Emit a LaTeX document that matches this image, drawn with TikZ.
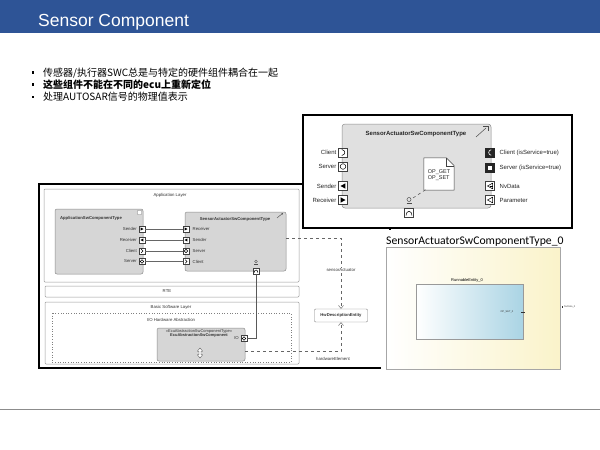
\documentclass[tikz,border=0pt]{standalone}
\usepackage{fontspec}
\setmainfont{Liberation Sans}
\newfontfamily\cjk{Noto Sans CJK SC}
\newfontfamily\cali{Carlito}
\usetikzlibrary{arrows.meta}
\definecolor{hdr}{RGB}{46,84,150}
\definecolor{compfill}{RGB}{214,214,214}
\definecolor{yel}{RGB}{250,243,202}
\definecolor{lblue}{RGB}{170,212,228}
\tikzset{
  pbox/.style={draw=black!75, fill=white, line width=0.4pt, inner sep=0pt, minimum size=#1},
  comp/.style={draw=black!45, fill=compfill, rounded corners=2pt, line width=0.5pt},
  layer/.style={draw=black!40, fill=white, rounded corners=1pt, line width=0.5pt},
  tiny/.style={font=\fontsize{4.3}{5}\selectfont, text=black!80, inner sep=0.5pt},
  mid/.style={font=\fontsize{6}{7}\selectfont, text=black!85, inner sep=0.5pt},
  triR/.pic={\fill[black] (-2.3,-2.6) -- (2.5,0) -- (-2.3,2.6) -- cycle;},
  triL/.pic={\fill[black] (2.3,-2.6) -- (-2.5,0) -- (2.3,2.6) -- cycle;},
  srv/.pic={\draw[line width=0.5pt] (0,0) circle (2.8);},
  cli/.pic={\draw[line width=0.5pt] (-1.2,-3) .. controls (2.8,-2.2) and (2.8,2.2) .. (-1.2,3);},
  bot/.pic={\draw[line width=0.5pt] (-3,2.5) .. controls (-3,-3) and (3,-3) .. (3,2.5);},
  cliS/.pic={\fill[black!85] (-4.5,-4.5) rectangle (4.5,4.5);
             \draw[white, line width=0.6pt] (1.2,-2.8) .. controls (-2.2,-2) and (-2.2,2) .. (1.2,2.8);},
  srvS/.pic={\fill[black!85] (-4.5,-4.5) rectangle (4.5,4.5);
             \fill[white] (-1.6,-1.6) rectangle (1.6,1.6);},
  opnL/.pic={\draw[line width=0.5pt] (2.5,-2.8) -- (-2.5,0) -- (2.5,2.8) -- cycle;},
  nvL/.pic={\draw[line width=0.5pt] (2.5,-2.8) -- (-2.5,0) -- (2.5,2.8) -- cycle; \draw[line width=0.4pt] (-0.5,0) -- (2.5,0);},
}
\begin{document}
\begin{tikzpicture}[x=1pt,y=-1pt]
\useasboundingbox (0,0) rectangle (600,450);
\fill[white] (0,0) rectangle (600,450);

% header
\fill[hdr] (0,0) rectangle (600,33);
\node[anchor=base west, text=white, inner sep=0, font=\fontsize{17.5}{20}\selectfont] (title) at (38,26) {Sensor Component};

% bullets
\node[fill=black, minimum size=2.4, inner sep=0] (q1) at (33,72.5) {};
\node[fill=black, minimum size=2.4, inner sep=0] (q2) at (33,84.5) {};
\node[fill=black, minimum size=2.4, inner sep=0] (q3) at (33,97) {};
\node[anchor=base west, inner sep=0, font=\cjk\fontsize{10}{11}\selectfont] (b1) at (43,76.3) {传感器/执行器SWC总是与特定的硬件组件耦合在一起};
\node[anchor=base west, inner sep=0, font=\cjk\bfseries\fontsize{10}{11}\selectfont] (b2) at (43,88.3) {这些组件不能在不同的ecu上重新定位};
\node[anchor=base west, inner sep=0, font=\cjk\fontsize{10}{11}\selectfont] (b3) at (43,100.8) {处理AUTOSAR信号的物理值表示};

% ================= left diagram =================
\draw[line width=1.3pt, fill=white] (39,184) rectangle (390,368);
\draw[layer] (44,189) rectangle (299,282);
\node[tiny] (lapp) at (170,195) {Application Layer};
\draw[layer] (45,286) rectangle (299,297);
\node[tiny] (lrte) at (167,291.5) {RTE};
\draw[layer] (45,302) rectangle (299,364);
\node[tiny] (lbsw) at (171,307.5) {Basic Software Layer};
\draw[black!50, dotted, line width=0.6pt] (52,313) rectangle (291,362);
\node[tiny] (lioh) at (171,320) {I/O Hardware Abstraction};

% application component
\draw[comp] (55,209) rectangle (143,274);
\node[tiny, font=\bfseries\fontsize{4.2}{5}\selectfont] (appt) at (91,218) {ApplicationSwComponentType};
\node[draw=black!50, fill=white, minimum size=4, inner sep=0, rounded corners=0.5pt] (appic) at (139.5,212.5) {};
\node[pbox=6] (a1) at (142,229) {}; \pic[scale=0.6] at (a1) {triR};
\node[pbox=6] (a2) at (142,240) {}; \pic[scale=0.6] at (a2) {triL};
\node[pbox=6] (a3) at (142,251) {}; \pic[scale=0.6] at (a3) {cli};
\node[pbox=6] (a4) at (142,261.5) {}; \pic[scale=0.6] at (a4) {srv};
\node[tiny, anchor=east] at (137.5,229) {Sender};
\node[tiny, anchor=east] at (137.5,240) {Receiver};
\node[tiny, anchor=east] at (137.5,251) {Client};
\node[tiny, anchor=east] at (137.5,261.5) {Server};

% sensor actuator component (small)
\draw[comp] (185,212) rectangle (286,271);
\node[tiny, font=\bfseries\fontsize{4.2}{5}\selectfont] (sat) at (235,219) {SensorActuatorSwComponentType};
\draw[black!70, line width=0.4pt, -{Straight Barb[length=1.2pt,width=2pt]}] (277,218) -- (283,213);
\node[pbox=6] (s1) at (186,229) {}; \pic[scale=0.6] at (s1) {triR};
\node[pbox=6] (s2) at (186,240) {}; \pic[scale=0.6] at (s2) {triL};
\node[pbox=6] (s3) at (186,251) {}; \pic[scale=0.6] at (s3) {srv};
\node[pbox=6] (s4) at (186,261.5) {}; \pic[scale=0.6] at (s4) {cli};
\node[tiny, anchor=west] at (192,229) {Receiver};
\node[tiny, anchor=west] at (192,240) {Sender};
\node[tiny, anchor=west] at (192,251) {Server};
\node[tiny, anchor=west] at (192,261.5) {Client};
\node[pbox=6] (sb) at (256,271) {}; \pic[scale=0.6] at (sb) {bot};
\draw[black!70, line width=0.4pt] (256,261.5) circle (1.4);
\draw[black!70, line width=0.4pt] (254.2,264) -- (257.8,264);
\coordinate (saout) at (286,238);

\foreach \i in {1,2,3,4} \draw[black!60, line width=0.4pt] (a\i.east) -- (s\i.west);

% ecu abstraction component
\draw[comp] (157,328) rectangle (245,361);
\node[tiny, font=\fontsize{4}{4.5}\selectfont] (ecu1) at (199,331) {«EcuAbstractionSwComponentType»};
\node[tiny, font=\bfseries\fontsize{4}{4.5}\selectfont] (ecu2) at (199,335) {EcuAbstractionSwComponent};
\node[pbox=6] (io) at (244,338.5) {}; \pic[scale=0.6] at (io) {srv};
\node[tiny, anchor=east] at (239.5,338.5) {IO};
\draw[black!70, fill=white, line width=0.35pt] (200,348) -- (202.6,351.2) -- (201,351.2) -- (201,354.8) -- (202.6,354.8) -- (200,358) -- (197.4,354.8) -- (199,354.8) -- (199,351.2) -- (197.4,351.2) -- cycle;
\coordinate (ecuout) at (245,351.5);
\draw[black!65, line width=0.45pt] (io.east) -| (sb.south);

% HwDescriptionEntity
\node[draw=black!50, fill=white, rounded corners=1pt, minimum width=53, minimum height=13, inner sep=0,
      font=\bfseries\fontsize{4.2}{5}\selectfont, text=black!80] (hw) at (341,315.5) {HwDescriptionEntity};
\draw[black!60, dashed, line width=0.45pt, -{Straight Barb[open,length=3pt,width=5pt]}] (saout) -- (341,238) -- (hw.north);
\node[tiny, fill=white, inner sep=1pt] (lsa) at (341,270) {sensorActuator};
\draw[black!60, dashed, line width=0.45pt, -{Straight Barb[open,length=3pt,width=5pt]}] (ecuout) -- (341,351.5) -- (hw.south);
\node[tiny] (lhe) at (333,359) {hardwareElement};

% ================= top-right picture =================
\draw[line width=1.3pt, fill=white] (303,115) rectangle (572,228);
\draw[comp, rounded corners=3pt, fill=black!12, draw=black!45] (342,124) rectangle (491,208);
\node[mid, font=\bfseries\fontsize{6}{7}\selectfont] (tsat) at (416,134) {SensorActuatorSwComponentType};
\draw[black!70, line width=0.5pt] (476,137) -- (486,128);
\draw[black!70, line width=0.5pt] (483,126) -- (488,126) -- (488,131);
\node[pbox=9] (t1) at (343,152.5) {}; \pic at (t1) {cli};
\node[pbox=9] (t2) at (343,166.5) {}; \pic at (t2) {srv};
\node[pbox=9] (t3) at (343,186) {}; \pic at (t3) {triL};
\node[pbox=9] (t4) at (343,200) {}; \pic at (t4) {triR};
\node[mid, anchor=east] at (337,152.5) {Client};
\node[mid, anchor=east] at (337,166.5) {Server};
\node[mid, anchor=east] at (337,186) {Sender};
\node[mid, anchor=east] at (337,200) {Receiver};
\node[pbox=9, draw=black!85] (r1) at (490,152.5) {}; \pic at (r1) {cliS};
\node[pbox=9, draw=black!85] (r2) at (490,168) {}; \pic at (r2) {srvS};
\node[pbox=9] (r3) at (490,186) {}; \pic at (r3) {nvL};
\node[pbox=9] (r4) at (490,200) {}; \pic at (r4) {opnL};
\node[mid, anchor=west] at (499,152.5) {Client (isService=true)};
\node[mid, anchor=west] at (499,168) {Server (isService=true)};
\node[mid, anchor=west] at (499,186) {NvData};
\node[mid, anchor=west] at (499,200) {Parameter};
% note
\node[minimum width=30, minimum height=32, inner sep=0] (note) at (439,174) {};
\draw[black!75, fill=white, line width=0.5pt] (note.north west) -- ([xshift=-8pt]note.north east) -- ([yshift=-8pt]note.north east) -- (note.south east) -- (note.south west) -- cycle;
\draw[black!75, line width=0.5pt] ([xshift=-8pt]note.north east) -- ([xshift=-8pt,yshift=-8pt]note.north east) -- ([yshift=-8pt]note.north east);
\node[inner sep=0, align=left, mid, font=\fontsize{5.5}{6.5}\selectfont] (notet) at (439,175) {OP\_GET\\OP\_SET};
\node[pbox=9] (tb) at (409,213) {}; \pic at (tb) {bot};
\draw[black!70, line width=0.5pt] (409,199.5) circle (2);
\draw[black!70, line width=0.5pt] (406.5,203) -- (411.5,203);
\coordinate (omg) at (413,198);
\draw[black!70, dashed, line width=0.5pt] (omg) -- ([xshift=4pt,yshift=2pt]note.south west);

% ================= bottom-right picture =================
\fill[white] (381,230) rectangle (600,388);
\node[anchor=base west, inner sep=0, font=\cali\fontsize{11.7}{14}\selectfont] (brt) at (386,244) {SensorActuatorSwComponentType\_0};
\shade[left color=white, right color=yel] (386,247) rectangle (560,369);
\draw[black!35, line width=0.5pt] (386,247) rectangle (560,369);
\node[font=\fontsize{4}{5}\selectfont, inner sep=0] (rel) at (467,280) {RunnableEntity\_0};
\shade[left color=white, right color=lblue] (416,284) rectangle (523,339);
\draw[black!40, line width=0.5pt] (416,284) rectangle (523,339);
\node[font=\fontsize{2.5}{3}\selectfont, inner sep=0, text=black!80] (ops) at (507,312) {OP\_SET\_0};
\draw[black!80, line width=0.4pt] (521,312) -- (525,312);
\fill[black!80] (561.5,306) rectangle (563,308);
\node[anchor=west, font=\fontsize{2.5}{3}\selectfont, inner sep=0, text=black!70] (nvd) at (564,307) {NvData\_0};

% bottom rule
\draw[black!45, line width=1pt] (0,409) -- (600,409);
\end{tikzpicture}
\end{document}
